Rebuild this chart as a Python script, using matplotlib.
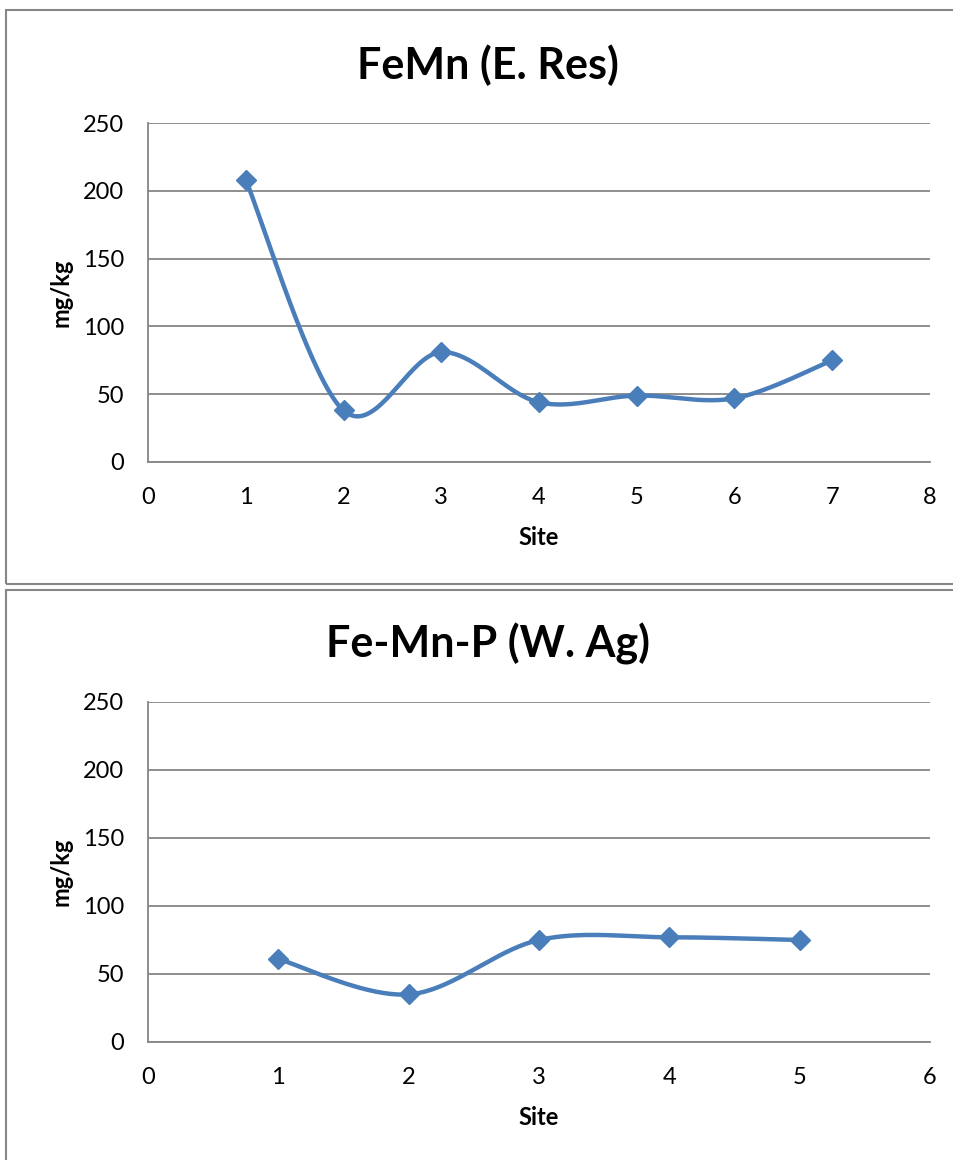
import numpy as np
import matplotlib
matplotlib.use('Agg')
import matplotlib.pyplot as plt
from matplotlib.patches import Rectangle

plt.rcParams['font.family'] = ['Lato', 'DejaVu Sans']

# Datos de los dos graficos
sitios_1 = [1, 2, 3, 4, 5, 6, 7]
valores_1 = [208, 38, 81, 44, 49, 47, 75]
sitios_2 = [1, 2, 3, 4, 5]
valores_2 = [61, 35, 75, 77, 75]
titulos = ['FeMn (E. Res)', 'Fe-Mn-P (W. Ag)']
xmax = [8, 6]

azul = '#4A7EBB'
gris = '#868686'


def suavizar(x, y, n=40):
    # curva suavizada tipo Excel (Bezier con puntos de control Catmull-Rom)
    x = np.asarray(x, float)
    y = np.asarray(y, float)
    px = np.concatenate([[x[0]], x, [x[-1]]])
    py = np.concatenate([[y[0]], y, [y[-1]]])
    xs, ys = [], []
    t = np.linspace(0, 1, n)
    for i in range(1, len(px) - 2):
        p0 = np.array([px[i], py[i]])
        p3 = np.array([px[i + 1], py[i + 1]])
        p1 = p0 + (np.array([px[i + 1], py[i + 1]]) - np.array([px[i - 1], py[i - 1]])) / 6
        p2 = p3 - (np.array([px[i + 2], py[i + 2]]) - np.array([px[i], py[i]])) / 6
        b = ((1 - t) ** 3)[:, None] * p0 + (3 * (1 - t) ** 2 * t)[:, None] * p1 \
            + (3 * (1 - t) * t ** 2)[:, None] * p2 + (t ** 3)[:, None] * p3
        xs.extend(b[:, 0])
        ys.extend(b[:, 1])
    return xs, ys


W, H = 954, 1160
fig = plt.figure(figsize=(W / 100, H / 100), dpi=100)

# marcos de cada grafico
fig.patches.append(Rectangle((6 / W, 1 - 584 / H), 1.0, 574 / H, transform=fig.transFigure,
                             fill=False, edgecolor=gris, linewidth=1.5))
fig.patches.append(Rectangle((6 / W, 1 - 1175 / H), 1.0, 585 / H, transform=fig.transFigure,
                             fill=False, edgecolor=gris, linewidth=1.5))

ejes_pos = [(148, 123, 930, 462), (148, 702, 930, 1042)]
titulo_y = [65, 644]
datos = [(sitios_1, valores_1), (sitios_2, valores_2)]

for k in range(2):
    x0, y0, x1, y1 = ejes_pos[k]
    ax = fig.add_axes([x0 / W, 1 - y1 / H, (x1 - x0) / W, (y1 - y0) / H])
    sx, sy = datos[k]
    cx, cy = suavizar(sx, sy)
    ax.plot(cx, cy, color=azul, linewidth=3.2, solid_capstyle='round', zorder=3)
    ax.plot(sx, sy, linestyle='none', marker='D', markersize=10.5, color=azul, zorder=4)
    ax.set_xlim(0, xmax[k])
    ax.set_ylim(0, 250)
    ax.set_xticks(range(0, xmax[k] + 1))
    ax.set_yticks(range(0, 251, 50))
    ax.grid(axis='y', color=gris, linewidth=1.3)
    ax.set_axisbelow(True)
    for s in ['top', 'right']:
        ax.spines[s].set_visible(False)
    ax.spines['left'].set_color(gris)
    ax.spines['bottom'].set_color(gris)
    ax.spines['left'].set_linewidth(1.3)
    ax.spines['bottom'].set_linewidth(1.3)
    ax.tick_params(length=0, labelsize=17)
    ax.tick_params(axis='x', pad=18)
    ax.tick_params(axis='y', pad=17)
    ax.set_xlabel('Site', fontsize=17, fontweight='bold', labelpad=13)
    ax.set_ylabel('mg/kg', fontsize=17, fontweight='bold', labelpad=8)
    fig.text(488 / W, 1 - titulo_y[k] / H, titulos[k], fontsize=31, fontweight='bold',
             ha='center', va='center')

fig.savefig('out.png', dpi=100)
